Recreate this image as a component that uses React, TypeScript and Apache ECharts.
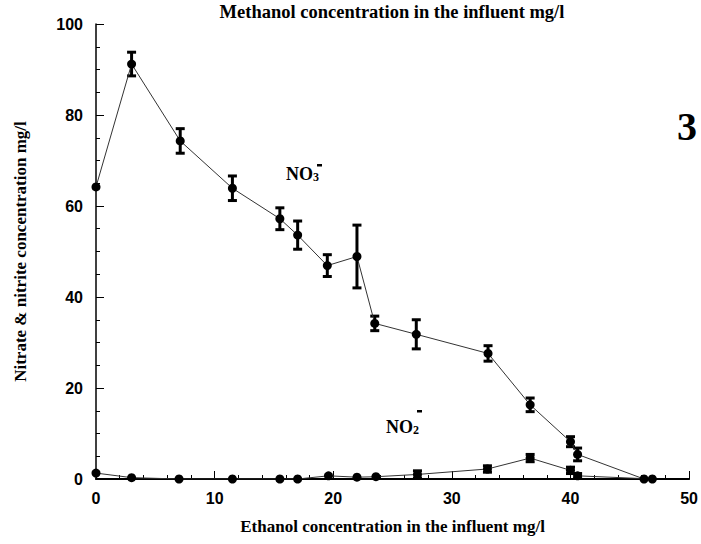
import React, { useEffect, useRef } from "react";
import * as echarts from "echarts";

// Ethanol dose (mg/l) for each measurement
const no3X = [0, 3, 7.1, 11.5, 15.5, 17.0, 19.5, 22.0, 23.5, 27.0, 33.05, 36.6, 40.0, 40.6, 46.2];
const no3Y = [64.2, 91.2, 74.3, 63.9, 57.2, 53.6, 46.9, 48.9, 34.2, 31.8, 27.6, 16.3, 8.2, 5.4, 0];
const no3Err = [0, 2.6, 2.7, 2.7, 2.4, 3.1, 2.4, 6.9, 1.6, 3.2, 1.7, 1.5, 1.1, 1.4, 0];

const no2X = [0, 3, 7.0, 11.5, 15.5, 17.0, 19.6, 22.0, 23.6, 27.1, 33.0, 36.6, 40.0, 40.6, 46.9];
const no2Y = [1.3, 0.3, 0, 0, 0, 0, 0.7, 0.4, 0.5, 1.0, 2.2, 4.6, 1.9, 0.7, 0];
const no2Err = [0, 0, 0, 0, 0, 0, 0, 0, 0, 0.8, 0.7, 0.8, 0.7, 0.5, 0];

const xTicks = { min: 0, max: 50, interval: 10 };
const yTicks = { min: 0, max: 100, interval: 20 };

const SERIF = "'Liberation Serif', 'Times New Roman', serif";
const SANS = "'Liberation Sans', Arial, sans-serif";

function errorBars(xs: number[], ys: number[], es: number[]) {
  return {
    type: "custom",
    z: 3,
    data: xs.map((x, i) => [x, ys[i], es[i]]),
    encode: { x: 0, y: 1 },
    renderItem: (_params: any, api: any) => {
      const x = api.value(0);
      const y = api.value(1);
      const e = api.value(2);
      if (!e) return null;
      const top = api.coord([x, y + e]);
      const bot = api.coord([x, y - e]);
      const hw = 4.5;
      const st = { stroke: "#000", lineWidth: 3 };
      return {
        type: "group",
        children: [
          { type: "line", shape: { x1: top[0], y1: top[1], x2: bot[0], y2: bot[1] }, style: st },
          { type: "line", shape: { x1: top[0] - hw, y1: top[1], x2: top[0] + hw, y2: top[1] }, style: st },
          { type: "line", shape: { x1: bot[0] - hw, y1: bot[1], x2: bot[0] + hw, y2: bot[1] }, style: st },
        ],
      };
    },
  };
}

function lineSeries(xs: number[], ys: number[]) {
  return {
    type: "line",
    z: 4,
    data: xs.map((x, i) => [x, ys[i]]),
    symbol: "circle",
    symbolSize: 9,
    itemStyle: { color: "#000" },
    lineStyle: { color: "#333", width: 1 },
  };
}

export default function App() {
  const ref = useRef<HTMLDivElement>(null);

  useEffect(() => {
    if (!ref.current) return;
    const chart = echarts.init(ref.current, null, { renderer: "svg" });
    chart.setOption({
      animation: false,
      backgroundColor: "#fff",
      grid: { left: 96, right: 9, top: 24, bottom: 65 },
      xAxis: {
        type: "value",
        ...xTicks,
        name: "Ethanol concentration in the influent mg/l",
        nameLocation: "middle",
        nameGap: 39,
        nameTextStyle: { fontFamily: SERIF, fontWeight: "bold", fontSize: 17, color: "#000" },
        axisLine: { show: true, lineStyle: { color: "#000", width: 2 } },
        axisTick: { show: true, inside: true, length: 8, lineStyle: { color: "#000", width: 1 } },
        minorTick: { show: true, splitNumber: 5, length: 4, lineStyle: { color: "#000", width: 1 } },
        axisLabel: { fontFamily: SANS, fontWeight: "bold", fontSize: 16, color: "#000", margin: 11 },
        splitLine: { show: false },
      },
      yAxis: {
        type: "value",
        ...yTicks,
        name: "Nitrate & nitrite concentration mg/l",
        nameLocation: "middle",
        nameGap: 67,
        nameTextStyle: { fontFamily: SERIF, fontWeight: "bold", fontSize: 17, color: "#000" },
        axisLine: { show: true, lineStyle: { color: "#000", width: 1.5 } },
        axisTick: { show: true, inside: true, length: 8, lineStyle: { color: "#000", width: 1 } },
        minorTick: { show: true, splitNumber: 4, length: 4, lineStyle: { color: "#000", width: 1 } },
        axisLabel: { fontFamily: SANS, fontWeight: "bold", fontSize: 16, color: "#000", margin: 13 },
        splitLine: { show: false },
      },
      series: [
        lineSeries(no3X, no3Y),
        errorBars(no3X, no3Y, no3Err),
        lineSeries(no2X, no2Y),
        errorBars(no2X, no2Y, no2Err),
      ],
      graphic: [
        {
          type: "text",
          x: 392,
          y: 12,
          style: {
            text: "Methanol concentration in the influent mg/l",
            font: `bold 18.5px ${SERIF}`,
            fill: "#000",
            align: "center",
            verticalAlign: "middle",
          },
        },
        {
          type: "text",
          x: 687,
          y: 126,
          style: {
            text: "3",
            font: `bold 40px ${SERIF}`,
            fill: "#000",
            align: "center",
            verticalAlign: "middle",
          },
        },
        {
          type: "text",
          x: 286,
          y: 174,
          style: {
            text: "{a|NO}{b|3}",
            verticalAlign: "middle",
            rich: {
              a: { font: `bold 18px ${SERIF}`, fill: "#000" },
              b: { font: `bold 12px ${SERIF}`, fill: "#000", padding: [6, 0, 0, 0] },
            },
          },
        },
        { type: "rect", shape: { x: 317, y: 164, width: 5, height: 2.5 }, style: { fill: "#000" } },
        {
          type: "text",
          x: 386,
          y: 427,
          style: {
            text: "{a|NO}{b|2}",
            verticalAlign: "middle",
            rich: {
              a: { font: `bold 18px ${SERIF}`, fill: "#000" },
              b: { font: `bold 12px ${SERIF}`, fill: "#000", padding: [6, 0, 0, 0] },
            },
          },
        },
        { type: "rect", shape: { x: 417, y: 410, width: 5, height: 2.5 }, style: { fill: "#000" } },
      ],
    });
    return () => chart.dispose();
  }, []);

  return <div ref={ref} style={{ width: 701, height: 544, position: "absolute", left: 0, top: 0 }} />;
}
